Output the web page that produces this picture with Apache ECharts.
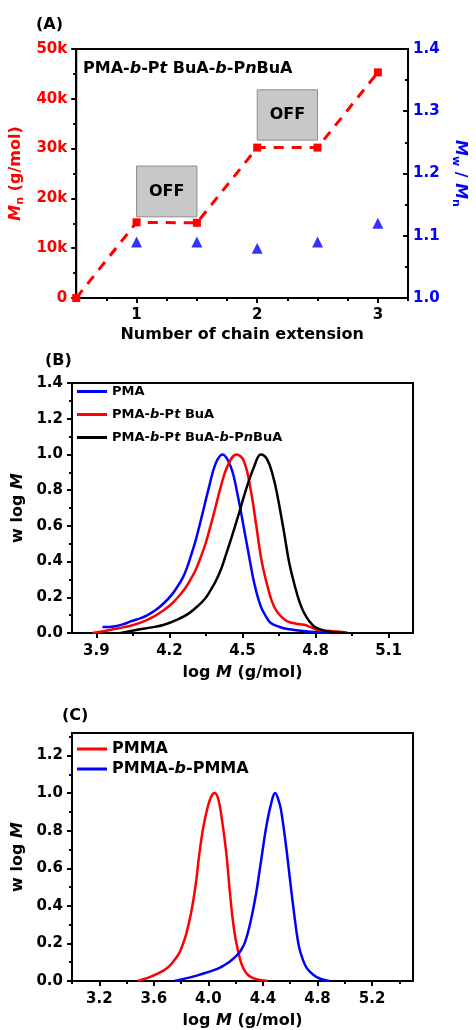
<!DOCTYPE html>
<html>
<head>
<meta charset="utf-8">
<script src="https://cdn.jsdelivr.net/npm/echarts@6/dist/echarts.min.js"></script>
<style>
html, body { margin: 0; padding: 0; background: #fff; }
#chart { width: 476px; height: 1030px; }
</style>
</head>
<body>
<div id="chart"></div>
<script>
// (A) chain extension data
var extCount = [0.5, 1, 1.5, 2, 2.5, 3];
var mnValues = [0, 15200, 15100, 30200, 30200, 45300];
var pdiCount = [1, 1.5, 2, 2.5, 3];
var pdiValues = [1.09, 1.09, 1.08, 1.09, 1.12];
// OFF boxes: x1, y1, x2, y2 (data units)
var offBoxes = [[1, 16300, 1.5, 26500], [2, 31700, 2.5, 41800]];
var aMajorTicks = [1, 2, 3];
var aMinorTicks = [0.5, 0.75, 1.25, 1.5, 1.75, 2.25, 2.5, 2.75, 3.25];

// (B) GPC traces [log M, w log M]
var pmaCurve = [[3.925,0.034],[3.972,0.037],[4.013,0.05],[4.041,0.065],[4.08,0.082],[4.11,0.10],[4.145,0.13],[4.178,0.168],[4.21,0.215],[4.233,0.26],[4.255,0.31],[4.274,0.373],[4.29,0.44],[4.308,0.52],[4.336,0.67],[4.363,0.82],[4.39,0.95],[4.418,1.0],[4.452,0.93],[4.479,0.78],[4.507,0.578],[4.527,0.43],[4.548,0.28],[4.575,0.149],[4.60,0.085],[4.616,0.056],[4.65,0.035],[4.685,0.022],[4.767,0.009],[4.85,0.002],[4.88,0]];
var ptbaCurve = [[3.884,0],[3.93,0.01],[3.972,0.022],[4.015,0.033],[4.055,0.046],[4.10,0.068],[4.137,0.093],[4.17,0.122],[4.205,0.158],[4.235,0.20],[4.26,0.242],[4.285,0.295],[4.308,0.354],[4.33,0.43],[4.349,0.504],[4.383,0.672],[4.411,0.82],[4.438,0.933],[4.475,1.0],[4.505,0.965],[4.534,0.80],[4.555,0.616],[4.575,0.43],[4.59,0.33],[4.603,0.26],[4.62,0.18],[4.637,0.13],[4.66,0.09],[4.685,0.065],[4.72,0.052],[4.753,0.046],[4.78,0.033],[4.808,0.018],[4.85,0.012],[4.89,0.008],[4.93,0.002]];
var pnbaCurve = [[4.0,0],[4.068,0.018],[4.12,0.03],[4.178,0.046],[4.246,0.084],[4.28,0.11],[4.315,0.149],[4.345,0.19],[4.37,0.242],[4.39,0.29],[4.411,0.354],[4.43,0.43],[4.452,0.522],[4.486,0.672],[4.514,0.802],[4.548,0.933],[4.575,1.0],[4.60,0.975],[4.625,0.88],[4.644,0.765],[4.671,0.56],[4.692,0.392],[4.719,0.242],[4.735,0.17],[4.753,0.112],[4.775,0.065],[4.794,0.037],[4.82,0.02],[4.85,0.009],[4.93,0]];
var bMajorTicks = [3.9, 4.2, 4.5, 4.8, 5.1];
var bMinorTicks = [4.05, 4.35, 4.65, 4.95];

// (C) GPC traces
var pmmaCurve = [[3.481,0],[3.55,0.015],[3.616,0.035],[3.67,0.055],[3.714,0.079],[3.75,0.11],[3.787,0.15],[3.81,0.19],[3.836,0.247],[3.873,0.362],[3.905,0.503],[3.934,0.679],[3.963,0.82],[3.995,0.926],[4.02,0.98],[4.044,1.0],[4.07,0.975],[4.095,0.88],[4.13,0.69],[4.154,0.50],[4.178,0.33],[4.203,0.21],[4.24,0.097],[4.27,0.05],[4.301,0.026],[4.35,0.01],[4.435,0]];
var pmmaBCurve = [[3.75,0],[3.80,0.008],[3.86,0.018],[3.92,0.03],[3.983,0.044],[4.04,0.058],[4.081,0.07],[4.105,0.079],[4.15,0.10],[4.203,0.132],[4.24,0.165],[4.27,0.21],[4.301,0.29],[4.325,0.37],[4.35,0.467],[4.387,0.644],[4.424,0.82],[4.46,0.944],[4.489,1.0],[4.515,0.96],[4.533,0.908],[4.57,0.714],[4.607,0.485],[4.644,0.273],[4.665,0.18],[4.692,0.115],[4.72,0.07],[4.766,0.035],[4.82,0.012],[4.888,0]];
var cMajorTicks = [3.2, 3.6, 4.0, 4.4, 4.8, 5.2];
var cMinorTicks = [3.0, 3.4, 3.8, 4.2, 4.6, 5.0, 5.4];
var cYMajor = [0, 0.2, 0.4, 0.6, 0.8, 1.0, 1.2];
var cYMinor = [0.1, 0.3, 0.5, 0.7, 0.9, 1.1, 1.3];

var FONT = "'DejaVu Sans', sans-serif";
var RED = '#ff0000', BLUE = '#0000ff';

function zip(xs, ys) {
	var out = [];
	for (var i = 0; i < xs.length; i++) out.push([xs[i], ys[i]]);
	return out;
}
function lbl(color, size) {
	return { color: color || '#000', fontSize: size || 15, fontWeight: 'bold', fontFamily: FONT };
}
function rich(color, size) {
	return {
		i: { fontStyle: 'italic', fontWeight: 'bold', fontSize: size, fontFamily: FONT, color: color },
		s: { fontWeight: 'bold', fontSize: size - 5, fontFamily: FONT, color: color, padding: [8, 0, 0, 0] }
	};
}
var axLine = { show: true, lineStyle: { color: '#000', width: 2 } };

// 主轴（标签+长刻度）
function mainX(grid, min, max, ticks, margin) {
	return {
		type: 'value', gridIndex: grid, position: 'bottom', min: min, max: max,
		axisLine: axLine, splitLine: { show: false },
		axisTick: { show: true, inside: false, length: 5, customValues: ticks, lineStyle: { color: '#000', width: 2 } },
		axisLabel: { customValues: ticks, margin: margin, formatter: function(v) { return grid == 0 ? String(v) : v.toFixed(1); }, color: '#000', fontSize: 15, fontWeight: 'bold', fontFamily: FONT }
	};
}
// 次刻度轴
function minorX(grid, min, max, ticks) {
	return {
		type: 'value', gridIndex: grid, position: 'bottom', min: min, max: max,
		axisLine: { show: false }, splitLine: { show: false }, axisLabel: { show: false },
		axisTick: { show: true, length: 3, customValues: ticks, lineStyle: { color: '#000', width: 2 } }
	};
}
// GPC 曲线
function curve(name, xi, yi, data, color) {
	return {
		name: name, type: 'line', xAxisIndex: xi, yAxisIndex: yi, data: data,
		showSymbol: false, smooth: 0.4,
		lineStyle: { color: color, width: 2.5 }, itemStyle: { color: color }
	};
}

var myChart = echarts.init(document.getElementById('chart'));
var option = {
	animation: false,
	backgroundColor: '#fff',
	grid: [
		{ left: 72, top: 49, width: 341, height: 249, show: true, borderColor: '#000', borderWidth: 2 },
		{ left: 72, top: 383, width: 341, height: 250, show: true, borderColor: '#000', borderWidth: 2 },
		{ left: 72, top: 733, width: 341, height: 249, show: true, borderColor: '#000', borderWidth: 2 }
	],
	xAxis: [
		Object.assign(mainX(0, 0.5, 3.25, aMajorTicks, 10), {
			name: 'Number of chain extension', nameLocation: 'middle', nameGap: 29,
			nameTextStyle: lbl('#000', 16)
		}),
		minorX(0, 0.5, 3.25, aMinorTicks),
		Object.assign(mainX(1, 3.8, 5.2, bMajorTicks, 11), {
			name: 'log {i|M} (g/mol)', nameLocation: 'middle', nameGap: 32,
			nameTextStyle: Object.assign(lbl('#000', 16), { rich: rich('#000', 16) })
		}),
		minorX(1, 3.8, 5.2, bMinorTicks),
		Object.assign(mainX(2, 3.0, 5.5, cMajorTicks, 11), {
			name: 'log {i|M} (g/mol)', nameLocation: 'middle', nameGap: 32,
			nameTextStyle: Object.assign(lbl('#000', 16), { rich: rich('#000', 16) })
		}),
		minorX(2, 3.0, 5.5, cMinorTicks)
	],
	yAxis: [
		{
			type: 'value', gridIndex: 0, position: 'left', min: 0, max: 50000, interval: 10000,
			axisLine: { show: true, lineStyle: { color: '#000', width: 2 } }, splitLine: { show: false },
			axisTick: { show: true, length: 5, lineStyle: { color: '#000', width: 2 } },
			minorTick: { show: true, splitNumber: 2, length: 3, lineStyle: { color: '#000', width: 2 } },
			axisLabel: Object.assign(lbl(RED, 15), { margin: 9, formatter: function(v) { return v == 0 ? '0' : (v / 1000) + 'k'; } }),
			name: '{i|M}{s|n} (g/mol)', nameLocation: 'middle', nameGap: 42,
			nameTextStyle: Object.assign(lbl(RED, 16), { rich: rich(RED, 16) })
		},
		{
			type: 'value', gridIndex: 0, position: 'right', min: 1.0, max: 1.4, interval: 0.1,
			axisLine: { show: true, lineStyle: { color: '#000', width: 2 } }, splitLine: { show: false },
			axisTick: { show: true, inside: true, length: 5, lineStyle: { color: '#000', width: 2 } },
			minorTick: { show: true, splitNumber: 2, length: 3, lineStyle: { color: '#000', width: 2 } },
			axisLabel: Object.assign(lbl(BLUE, 15), { margin: 5, formatter: function(v) { return v.toFixed(1); } }),
			name: '{i|M}{s|w} / {i|M}{s|n}', nameLocation: 'middle', nameGap: 38, nameRotate: -90,
			nameTextStyle: Object.assign(lbl(BLUE, 16), { rich: rich(BLUE, 16) })
		},
		{
			type: 'value', gridIndex: 1, position: 'left', min: 0, max: 1.4, interval: 0.2,
			axisLine: { show: true, lineStyle: { color: '#000', width: 2 } }, splitLine: { show: false },
			axisTick: { show: true, length: 5, lineStyle: { color: '#000', width: 2 } },
			minorTick: { show: true, splitNumber: 2, length: 3, lineStyle: { color: '#000', width: 2 } },
			axisLabel: Object.assign(lbl('#000', 15), { margin: 9, formatter: function(v) { return v.toFixed(1); } }),
			name: 'w log {i|M}', nameLocation: 'middle', nameGap: 43,
			nameTextStyle: Object.assign(lbl('#000', 16), { rich: rich('#000', 16) })
		},
		{
			type: 'value', gridIndex: 2, position: 'left', min: 0, max: 1.32,
			axisLine: { show: true, lineStyle: { color: '#000', width: 2 } }, splitLine: { show: false },
			axisTick: { show: true, length: 5, customValues: cYMajor, lineStyle: { color: '#000', width: 2 } },
			axisLabel: Object.assign(lbl('#000', 15), { margin: 9, customValues: cYMajor, formatter: function(v) { return v.toFixed(1); } }),
			name: 'w log {i|M}', nameLocation: 'middle', nameGap: 43,
			nameTextStyle: Object.assign(lbl('#000', 16), { rich: rich('#000', 16) })
		},
		{
			type: 'value', gridIndex: 2, position: 'left', min: 0, max: 1.32,
			axisLine: { show: false }, splitLine: { show: false }, axisLabel: { show: false },
			axisTick: { show: true, length: 3, customValues: cYMinor, lineStyle: { color: '#000', width: 2 } }
		}
	],
	legend: [
		{
			data: ['PMA', 'PMA-b-PtBuA', 'PMA-b-PtBuA-b-PnBuA'],
			orient: 'vertical', left: 77, top: 385, padding: 0, itemGap: 10,
			icon: 'rect', itemWidth: 30, itemHeight: 3,
			textStyle: Object.assign(lbl('#000', 13), { rich: rich('#000', 13) }),
			formatter: function(n) {
				return n.replace(/-b-/g, '-{i|b}-').replace('Pt', 'P{i|t} ').replace('Pn', 'P{i|n}');
			}
		},
		{
			data: ['PMMA', 'PMMA-b-PMMA'],
			orient: 'vertical', left: 77, top: 741, padding: 0, itemGap: 4,
			icon: 'rect', itemWidth: 30, itemHeight: 3,
			textStyle: Object.assign(lbl('#000', 16), { rich: rich('#000', 16) }),
			formatter: function(n) { return n.replace(/-b-/g, '-{i|b}-'); }
		}
	],
	graphic: [
		{ type: 'text', left: 36, top: 17, style: { text: '(A)', font: 'bold 16px ' + FONT, fill: '#000' } },
		{ type: 'text', left: 45, top: 353, style: { text: '(B)', font: 'bold 16px ' + FONT, fill: '#000' } },
		{ type: 'text', left: 62, top: 708, style: { text: '(C)', font: 'bold 16px ' + FONT, fill: '#000' } },
		{
			type: 'text', left: 83, top: 61,
			style: {
				text: 'PMA-{i|b}-P{i|t} BuA-{i|b}-P{i|n}BuA', font: 'bold 16px ' + FONT, fill: '#000',
				rich: { i: { fontStyle: 'italic', fontWeight: 'bold', fontSize: 16, fontFamily: FONT, fill: '#000' } }
			}
		}
	],
	series: [
		{
			name: 'Mn', type: 'line', xAxisIndex: 0, yAxisIndex: 0,
			data: zip(extCount, mnValues),
			symbol: 'rect', symbolSize: 8, itemStyle: { color: RED },
			lineStyle: { color: RED, width: 3, type: [10, 8] },
			markArea: {
				silent: true,
				itemStyle: { color: '#c8c8c8', borderColor: '#8c8c8c', borderWidth: 1, opacity: 1 },
				label: { show: true, position: 'inside', formatter: 'OFF', color: '#000', fontSize: 16, fontWeight: 'bold', fontFamily: FONT },
				data: offBoxes.map(function(b) { return [{ coord: [b[0], b[1]] }, { coord: [b[2], b[3]] }]; })
			},
			z: 3
		},
		{
			name: 'PDI', type: 'scatter', xAxisIndex: 0, yAxisIndex: 1,
			data: zip(pdiCount, pdiValues),
			symbol: 'triangle', symbolSize: 11, itemStyle: { color: BLUE }
		},
		curve('PMA', 2, 2, pmaCurve, BLUE),
		curve('PMA-b-PtBuA', 2, 2, ptbaCurve, RED),
		curve('PMA-b-PtBuA-b-PnBuA', 2, 2, pnbaCurve, '#000'),
		curve('PMMA', 4, 3, pmmaCurve, RED),
		curve('PMMA-b-PMMA', 4, 3, pmmaBCurve, BLUE)
	]
};
myChart.setOption(option);
window.onresize = myChart.resize;
</script>
</body>
</html>
